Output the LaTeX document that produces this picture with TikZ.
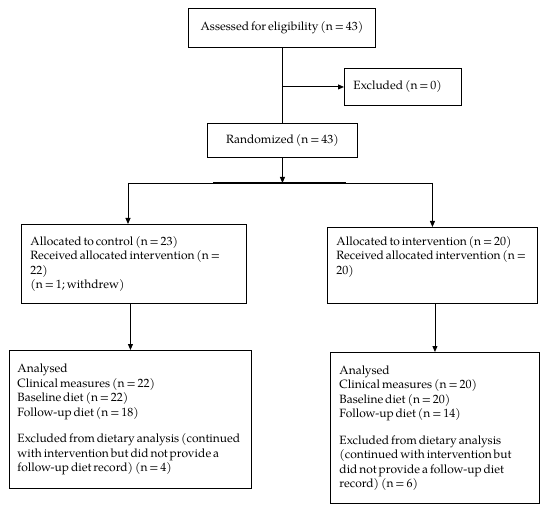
\documentclass[tikz,border=0pt]{standalone}
\usepackage{fontspec}
\setmainfont{TeX Gyre Pagella}
\usetikzlibrary{arrows.meta,positioning}
\hyphenpenalty=10000
\tikzset{
  stage/.style={draw, line width=0.9pt, anchor=north west, inner xsep=9pt, inner ysep=0pt,
    align=left, font=\fontsize{12}{14.5}\selectfont,
    execute at begin node={\spaceskip=0.16em\relax}},
  flow/.style={line width=0.9pt},
  arr/.style={flow, -{Triangle[length=6pt,width=5pt]}},
}

\begin{document}
\begin{tikzpicture}[x=1pt,y=-1pt]
\useasboundingbox (0,0) rectangle (550,511);
% boxes
\node[stage, align=center, text width=169pt, minimum height=39pt] (assess) at (188,8) {Assessed for eligibility (n = 43)};
\node[stage, text width=99pt, minimum height=37pt] (excl) at (344,68) {Excluded (n = 0)};
\node[stage, align=center, text width=132pt, minimum height=34pt] (rand) at (207,123) {Randomized (n = 43)};
\node[stage, text width=207pt, minimum height=79pt] (ctrl) at (21,224)
  {Allocated to control (n = 23)\\Received allocated intervention (n =\\22)\\(n = 1; withdrew)};
\node[stage, text width=192pt, minimum height=76pt] (intv) at (327,227)
  {Allocated to intervention (n = 20)\\Received allocated intervention (n =\\20)\\[6pt]~};
\node[stage, inner xsep=8pt, text width=226pt, minimum height=138pt] (anaC) at (9,350)
  {Analysed\\Clinical measures (n = 22)\\Baseline diet (n = 22)\\Follow-up diet (n = 18)\\[12pt]%
   Excluded from dietary analysis (continued\\with intervention but did not provide a\\follow-up diet record) (n = 4)};
\node[stage, text width=191pt, minimum height=151pt] (anaI) at (330,352)
  {Analysed\\Clinical measures (n = 20)\\Baseline diet (n = 20)\\Follow-up diet (n = 14)\\[12pt]%
   Excluded from dietary analysis\\(continued with intervention but\\did not provide a follow-up diet\\record) (n = 6)};
% junctions
\coordinate (exclturn) at (assess.south |- excl.west);
\coordinate (split) at (rand.south |- 0,183);
\coordinate (splitL) at (128,183);
\coordinate (splitR) at (intv.north |- split);
\coordinate (thickL) at (213,183);
\coordinate (thickR) at (346,183);
% connectors
\draw[flow] (assess.south) -- (assess.south |- rand.north);
\draw[arr] (exclturn) -- (excl.west);
\draw[arr] (rand.south) -- (split);
\draw[flow] (splitL) -- (splitR);
\draw[flow, line width=1.6pt] (thickL) -- (thickR);
\draw[arr] (splitL) -- (splitL |- ctrl.north);
\draw[arr] (splitR) -- (intv.north);
\draw[arr] (ctrl.south -| anaC.north) -- (anaC.north);
\draw[arr] (intv.south -| anaI.north) -- (anaI.north);
\end{tikzpicture}
\end{document}
